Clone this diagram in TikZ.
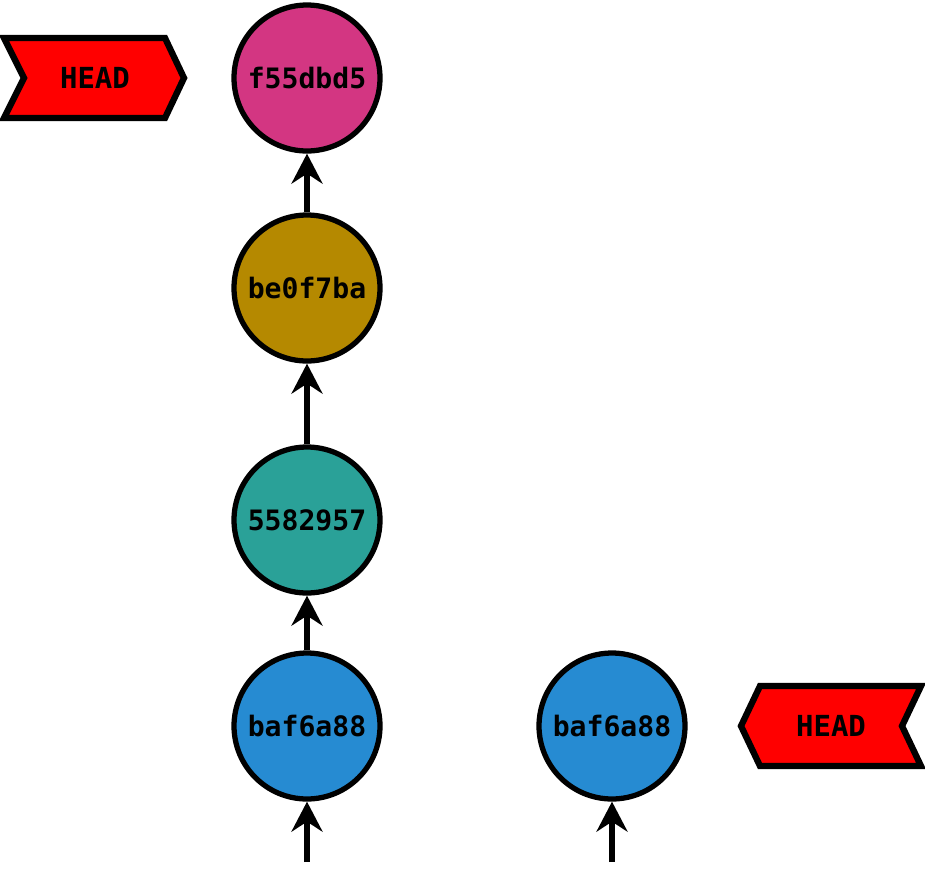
\documentclass[tikz,border=0pt]{standalone}
\usepackage{fontspec}
\setmonofont{DejaVu Sans Mono}
\usetikzlibrary{arrows.meta}
\definecolor{cmagenta}{HTML}{D33682}
\definecolor{cyellow}{HTML}{B58900}
\definecolor{ccyan}{HTML}{2AA198}
\definecolor{cblue}{HTML}{268BD2}
\tikzset{
  commit/.style={circle, draw=black, line width=3pt, minimum size=2.92cm,
    inner sep=0pt, font=\ttfamily\bfseries\fontsize{16}{19}\selectfont},
  parent/.style={line width=3.4pt, -{Stealth[length=0.6cm, width=0.62cm, inset=0.2cm]}},
  headtag/.style={draw=black, line width=3.6pt, fill=red, line join=miter}
}
\begin{document}
\begin{tikzpicture}[x=0.02cm, y=-0.02cm]
  \useasboundingbox (0,0) rectangle (925,876);
  \draw
    (307,78) node[commit, fill=cmagenta] (c4){f55dbd5}
    (307,288) node[commit, fill=cyellow] (c3){be0f7ba}
    (307,520) node[commit, fill=ccyan] (c2){5582957}
    (307,726) node[commit, fill=cblue] (c1){baf6a88}
    (612,726) node[commit, fill=cblue] (d1){baf6a88};
  \coordinate (c0) at (307,862);
  \coordinate (d0) at (612,862);
  \begin{scope}[parent]
    \draw (c0) to (c1);
    \draw (c1) to (c2);
    \draw (c2) to (c3);
    \draw (c3) to (c4);
    \draw (d0) to (d1);
  \end{scope}
  % HEAD tags
  \draw[headtag] (4,38) -- (165,38) -- (184,78) -- (165,118) -- (4,118) -- (24,78) -- cycle;
  \node[font=\ttfamily\bfseries\fontsize{16.5}{19}\selectfont] (lhead) at (95,78) {HEAD};
  \draw[headtag] (741,726) -- (760,686) -- (921,686) -- (902,726) -- (921,766) -- (760,766) -- cycle;
  \node[font=\ttfamily\bfseries\fontsize{16.5}{19}\selectfont] (rhead) at (831,726) {HEAD};
\end{tikzpicture}
\end{document}
